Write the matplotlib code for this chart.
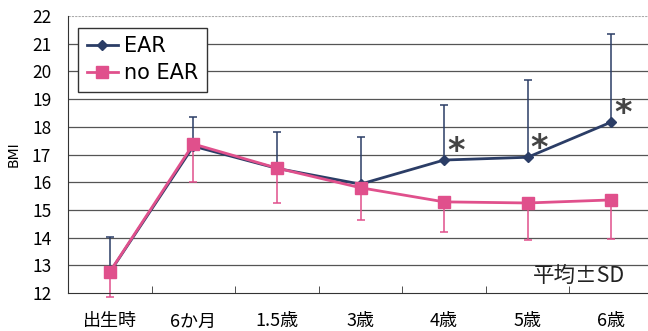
import matplotlib
matplotlib.use("Agg")
import matplotlib.pyplot as plt

plt.rcParams['font.family'] = ['Noto Sans CJK JP', 'DejaVu Sans']

labels = ['出生時', '6か月', '1.5歳', '3歳', '4歳', '5歳', '6歳']
ear = [12.75, 17.3, 16.5, 15.93, 16.8, 16.9, 18.17]
ear_sd_up = [1.27, 1.06, 1.31, 1.7, 1.99, 2.79, 3.18]
no_ear = [12.76, 17.38, 16.51, 15.8, 15.29, 15.25, 15.36]
no_ear_sd_down = [0.89, 1.38, 1.26, 1.17, 1.09, 1.34, 1.41]
signif = [4, 5, 6]

x = list(range(len(labels)))
c_ear = '#2b3d66'
c_no = '#e0508c'

fig = plt.figure(figsize=(6.48, 3.31), dpi=100)
ax = fig.add_axes([68 / 648, 38 / 331, 585 / 648, 277 / 331])

# grid
for v in range(13, 22):
    ax.axhline(v, color='#555555', lw=0.9, zorder=0)
ax.axhline(22, color='#aaaaaa', lw=0.8, ls=(0, (2, 1)), zorder=0)

ax.errorbar(x, no_ear, yerr=[no_ear_sd_down, [0] * 7], fmt='none',
            ecolor=c_no, elinewidth=1.1, capsize=3, capthick=1.1, zorder=2, clip_on=False)
ax.errorbar(x, ear, yerr=[[0] * 7, ear_sd_up], fmt='none',
            ecolor=c_ear, elinewidth=1.1, capsize=3, capthick=1.1, zorder=2)
ax.plot(x, ear, color=c_ear, lw=2, marker='D', ms=5, label='EAR', zorder=3)
ax.plot(x, no_ear, color=c_no, lw=2, marker='s', ms=8, label='no EAR', zorder=4)

for i in signif:
    ax.text(i + 0.14, ear[i] + 0.32, '*', fontsize=24, color='#444444',
            family='DejaVu Sans', weight='bold', ha='center', va='center')

ax.text(6.16, 12.6, '平均±SD', fontsize=15.5, ha='right', va='center', color='#222222')

ax.set_xlim(-0.5, 6.5)
ax.set_ylim(12, 22)
ax.set_yticks(range(12, 23))
ax.set_xticks(x)
ax.set_xticklabels(labels, fontsize=13)
ax.set_xticks([i + 0.5 for i in x[:-1]], minor=True)
ax.tick_params(axis='x', which='major', length=0, pad=14)
ax.tick_params(axis='x', which='minor', length=5, direction='in', color='#333333')
ax.tick_params(axis='y', length=0, labelsize=12.5, pad=12)
ax.set_ylabel('BMI', fontsize=10, labelpad=8, family='DejaVu Sans')

for s in ['top', 'right']:
    ax.spines[s].set_visible(False)
ax.spines['left'].set_color('#333333')
ax.spines['bottom'].set_color('#333333')

leg = ax.legend(loc='upper left', bbox_to_anchor=(0.0, 0.995),
                frameon=True, fancybox=False, edgecolor='#333333',
                handlelength=1.5, borderpad=0.4, labelspacing=0.35, handletextpad=0.3,
                prop={'family': 'DejaVu Sans', 'size': 15})
leg.get_frame().set_linewidth(1.0)
leg.get_frame().set_alpha(1)

fig.savefig('out.png', dpi=100)
